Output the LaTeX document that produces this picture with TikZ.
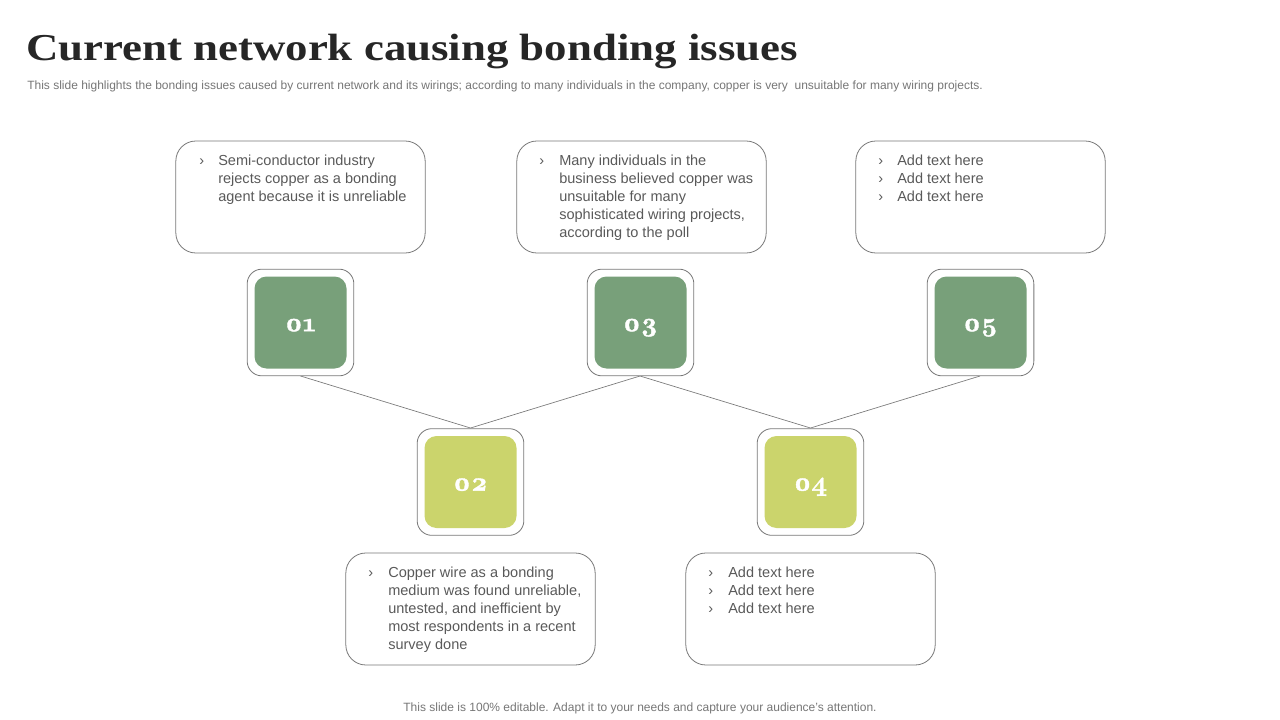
\documentclass[tikz,border=0pt]{standalone}
\usepackage{fontspec}
\setmainfont{Liberation Sans}
\newfontfamily\titlefont{Liberation Serif}
\newfontfamily\numfont{lmroman10-bold.otf}[Numbers=OldStyle,FakeBold=1.5]
\definecolor{darkgreen}{RGB}{120,160,122}
\definecolor{lightgreen}{RGB}{203,212,108}
\definecolor{boxline}{RGB}{120,120,120}
\definecolor{bodytext}{RGB}{89,89,89}
\definecolor{subtext}{RGB}{118,118,118}
\definecolor{titletext}{RGB}{38,38,38}
\begin{document}
\begin{tikzpicture}[x=0.75pt,y=-0.75pt,
  textbox/.style={draw=boxline,line width=0.6pt,rounded corners=15pt,minimum width=187pt,minimum height=84pt,inner sep=0pt},
  outerbox/.style={draw=boxline,line width=0.6pt,rounded corners=11pt,minimum width=80pt,minimum height=80pt,inner sep=0pt,fill=white},
  innerbox/.style={rounded corners=9pt,minimum width=69pt,minimum height=69pt,inner sep=0pt},
  numtxt/.style={inner sep=0pt,text=white,font=\numfont\fontsize{20}{20}\selectfont},
  bodytxt/.style={anchor=north west,inner sep=0pt,align=left,text=bodytext,font=\fontsize{10.9}{13.4}\selectfont},
  bul/.style={anchor=north west,inner sep=0pt,align=left,text=bodytext,font=\fontsize{10.9}{13.4}\selectfont},
  conn/.style={draw=boxline,line width=0.5pt}]
\useasboundingbox (0,0) rectangle (1280,720);
% title
\node[anchor=base west,inner sep=0pt,text=titletext,font=\titlefont\bfseries\fontsize{28.5}{29}\selectfont] (title) at (26,60.5) {\scalebox{1.18}[1]{Current network causing bonding issues}};
\node[anchor=base west,inner sep=0pt,text=subtext,font=\fontsize{9}{9}\selectfont] (sub) at (27,90) {This slide highlights the bonding issues caused by current network and its wirings; according to many individuals in the company, copper is very\ \ unsuitable for many wiring projects.};
% text boxes
\node[textbox] (t1) at (300.5,197) {};
\node[textbox] (t3) at (641.5,197) {};
\node[textbox] (t5) at (980.5,197) {};
\node[textbox] (t2) at (470.5,609) {};
\node[textbox] (t4) at (810.5,609) {};
% connectors
\coordinate (b1) at (300.5,376);
\coordinate (b3) at (640,376);
\coordinate (b5) at (980,376);
\coordinate (u2) at (470.5,428);
\coordinate (u4) at (810.5,428);
\draw[conn] (b1) -- (u2) -- (b3) -- (u4) -- (b5);
% number boxes
\node[outerbox] (o1) at (300.5,322.5) {};
\node[outerbox] (o3) at (640.5,322.5) {};
\node[outerbox] (o5) at (980.5,322.5) {};
\node[outerbox] (o2) at (470.5,482) {};
\node[outerbox] (o4) at (810.5,482) {};
\node[innerbox,fill=darkgreen] (n1) at (o1) {};
\node[innerbox,fill=darkgreen] (n3) at (o3) {};
\node[innerbox,fill=darkgreen] (n5) at (o5) {};
\node[innerbox,fill=lightgreen] (n2) at (o2) {};
\node[innerbox,fill=lightgreen] (n4) at (o4) {};
\node[numtxt,anchor=base] (l1) at ([yshift=-6.5pt]n1.center) {01};
\node[numtxt,anchor=base] (l3) at ([yshift=-6.5pt]n3.center) {03};
\node[numtxt,anchor=base] (l5) at ([yshift=-6.5pt]n5.center) {05};
\node[numtxt,anchor=base] (l2) at ([yshift=-6.5pt]n2.center) {02};
\node[numtxt,anchor=base] (l4) at ([yshift=-6.5pt]n4.center) {04};
% texts
\node[bul] (k1) at (199,153) {\strut›};
\node[bodytxt] (x1) at (218,153) {\strut Semi-conductor industry\\rejects copper as a bonding\\agent because it is unreliable};
\node[bul] (k3) at (539,153) {\strut›};
\node[bodytxt] (x3) at (559,153) {\strut Many individuals in the\\business believed copper was\\unsuitable for many\\sophisticated wiring projects,\\according to the poll};
\node[bul] (k5) at (878,153) {\strut›\\›\\›};
\node[bodytxt] (x5) at (897,153) {\strut Add text here\\Add text here\\Add text here};
\node[bul] (k2) at (368,565) {\strut›};
\node[bodytxt] (x2) at (388,565) {\strut Copper wire as a bonding\\medium was found unreliable,\\untested, and inefficient by\\most respondents in a recent\\survey done};
\node[bul] (k4) at (708,565) {\strut›\\›\\›};
\node[bodytxt] (x4) at (728,565) {\strut Add text here\\Add text here\\Add text here};
% footer
\node[anchor=base,inner sep=0pt,text=subtext,font=\fontsize{9}{9}\selectfont] (foot) at (640,711) {This slide is 100\% editable. Adapt it to your needs and capture your audience's attention.};
\end{tikzpicture}
\end{document}
